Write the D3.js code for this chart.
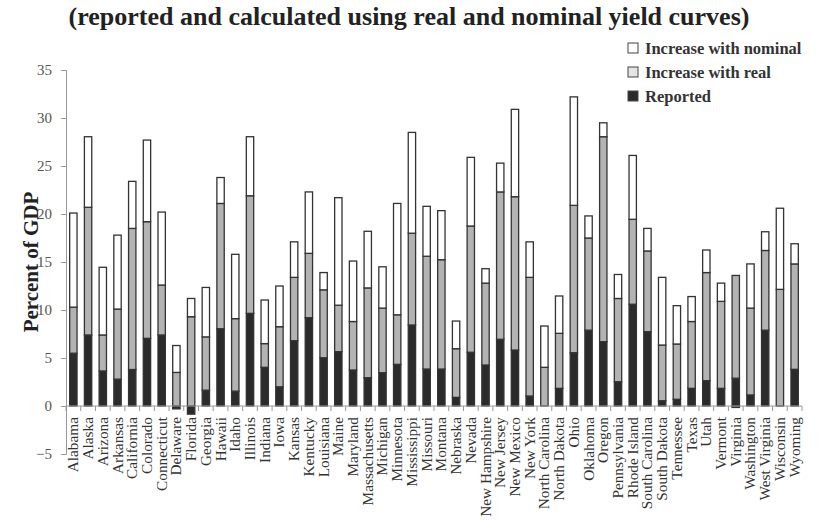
<!DOCTYPE html>
<html><head><meta charset="utf-8">
<script src="https://cdn.jsdelivr.net/npm/d3@7"></script>
<style>body{margin:0;background:#fff}svg{display:block}</style>
</head><body><svg id="c" width="825" height="525"></svg>
<script>
const states = ["Alabama","Alaska","Arizona","Arkansas","California","Colorado","Connecticut","Delaware","Florida","Georgia","Hawaii","Idaho","Illinois","Indiana","Iowa","Kansas","Kentucky","Louisiana","Maine","Maryland","Massachusetts","Michigan","Minnesota","Mississippi","Missouri","Montana","Nebraska","Nevada","New Hampshire","New Jersey","New Mexico","New York","North Carolina","North Dakota","Ohio","Oklahoma","Oregon","Pennsylvania","Rhode Island","South Carolina","South Dakota","Tennessee","Texas","Utah","Vermont","Virginia","Washington","West Virginia","Wisconsin","Wyoming"];
const reported = [5.5,7.4,3.65,2.8,3.8,7.05,7.4,-0.3,-0.85,1.65,8.05,1.55,9.65,4.03,2.0,6.8,9.2,5.03,5.66,3.75,2.95,3.47,4.34,8.44,3.85,3.85,0.9,5.6,4.27,6.95,5.83,1.04,0,1.84,5.55,7.9,6.7,2.53,10.6,7.74,0.55,0.7,1.84,2.64,1.84,2.9,1.15,7.9,0,3.82];
const increaseReal = [4.8,13.3,3.75,7.3,14.7,12.15,5.2,3.5,9.3,5.55,13.05,7.55,12.25,2.47,6.26,6.6,6.7,7.07,4.84,5.05,9.35,6.73,5.16,9.56,11.75,11.39,5.07,13.15,8.53,15.35,15.97,12.36,4.03,5.73,15.35,9.6,21.35,8.67,8.85,8.41,5.8,5.76,6.96,11.26,9.06,10.7,9.05,8.3,12.15,10.98];
const increaseNominal = [9.8,7.35,7.05,7.7,4.9,8.5,7.6,2.8,1.9,5.15,2.7,6.7,6.15,4.54,4.24,3.7,6.4,1.8,11.2,6.3,5.9,4.3,11.6,10.5,5.2,5.11,2.88,7.15,1.5,3.0,9.1,3.7,4.3,3.89,11.3,2.3,1.45,2.5,6.65,2.35,7.05,3.99,2.6,2.35,1.9,-0.15,4.6,1.95,8.45,2.1];
const yTicks = [-5,0,5,10,15,20,25,30,35];
const seriesNames = ["Reported","Increase with real","Increase with nominal"];
const legendOrder = ["Increase with nominal","Increase with real","Reported"];
const titleText = "(reported and calculated using real and nominal yield curves)";
const yTitle = "Percent of GDP";

const fills = {"Reported":"#2b2b2b","Increase with real":"#b3b3b3","Increase with nominal":"#ffffff"};
const legendFills = {"Reported":"#2b2b2b","Increase with real":"#e4e4e4","Increase with nominal":"#ffffff"};
const FONT = "'Liberation Serif','Times New Roman',serif";

const svg = d3.select("#c");
const M = {left:66, right:802, top:70, bottom:454};
const x = d3.scaleBand().domain(states).range([M.left, M.right]).paddingInner(0.5).paddingOuter(0.25);
const y = d3.scaleLinear().domain([-5,35]).range([M.bottom, M.top]);

const rows = states.map((s,i)=>({state:s,"Reported":reported[i],"Increase with real":increaseReal[i],"Increase with nominal":increaseNominal[i]}));
const stack = d3.stack().keys(seriesNames).offset(d3.stackOffsetDiverging);
const layers = stack(rows);

// title
svg.append("text").attr("x",409).attr("y",25).attr("text-anchor","middle")
  .style("font-family",FONT).style("font-weight","bold").style("font-size","26px").style("fill","#222")
  .text(titleText);

// y axis
const yAxis = svg.append("g").attr("transform",`translate(${M.left},0)`)
  .call(d3.axisLeft(y).tickValues(yTicks).tickSize(5).tickPadding(9).tickFormat(d3.format("d")));
yAxis.select(".domain").attr("stroke","#999");
yAxis.selectAll(".tick line").attr("stroke","#999");
yAxis.selectAll(".tick text").style("font-family",FONT).style("font-size","15px").attr("fill","#555");

svg.append("text").attr("transform",`translate(38,262) rotate(-90)`).attr("text-anchor","middle")
  .style("font-family",FONT).style("font-weight","bold").style("font-size","21px").style("fill","#222")
  .text(yTitle);

// bars
const g = svg.append("g");
layers.forEach(layer=>{
  g.selectAll(null).data(layer).enter().append("rect")
    .attr("x",d=>x(d.data.state))
    .attr("width",x.bandwidth())
    .attr("y",d=>y(Math.max(d[0],d[1])))
    .attr("height",d=>Math.abs(y(d[0])-y(d[1])))
    .attr("fill",fills[layer.key])
    .attr("stroke","#333").attr("stroke-width",1.3);
});

// x axis
const xAxisG = svg.append("g").attr("transform",`translate(0,${y(0)})`);
xAxisG.append("line").attr("x1",M.left).attr("x2",M.right).attr("stroke","#999");
const bounds = d3.range(states.length+1).map(i=>M.left + i*(M.right-M.left)/states.length);
xAxisG.selectAll(null).data(bounds).enter().append("line")
  .attr("x1",d=>d).attr("x2",d=>d).attr("y1",0).attr("y2",5).attr("stroke","#999");
xAxisG.selectAll(null).data(states).enter().append("text")
  .attr("transform",d=>`translate(${x(d)+x.bandwidth()/2+5},11) rotate(-90)`)
  .attr("text-anchor","end")
  .style("font-family",FONT).style("font-size","15.3px").attr("fill","#333")
  .text(d=>d);

// legend
const lg = svg.append("g");
legendOrder.forEach((k,i)=>{
  const yy = 54 + i*24;
  lg.append("rect").attr("x",628).attr("y",yy-11).attr("width",10).attr("height",10)
    .attr("fill",legendFills[k]).attr("stroke","#444").attr("stroke-width",1);
  lg.append("text").attr("x",645).attr("y",yy).style("font-family",FONT).style("font-weight","bold")
    .style("font-size","16.5px").attr("fill","#333").text(k);
});
</script></body></html>
